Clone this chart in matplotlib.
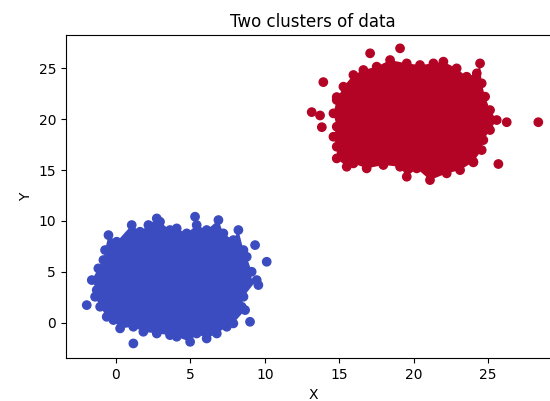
import matplotlib
matplotlib.use("Agg")
import matplotlib.pyplot as plt
import numpy as np

# --- Data ---
# Blue cluster: centres of the markers along the edge of the dense core
blue_edge_x = [-0.49, 0.06, 1.07, 1.63, 2.19, 2.75, 2.97, 3.64, 4.09, 4.76, 5.43, 6.10,
               6.89, 7.22, 7.89, 8.23, 8.57, 8.79, 9.12, 8.79, 9.46, 8.57, 8.45, 8.68,
               7.89, 7.45, 6.78, 6.10, 5.43, 4.99, 4.09, 3.64, 2.75, 1.85, 1.18, 0.29,
               -0.16, -0.61, -1.05, -1.39, -1.28, -1.61, -1.17, -0.83, -0.72]
blue_edge_y = [8.61, 7.96, 9.60, 8.94, 9.60, 10.25, 9.92, 9.11, 9.27, 8.78, 9.60, 9.11,
               10.09, 8.78, 8.12, 9.11, 7.14, 6.48, 5.01, 4.52, 4.19, 2.55, 1.57, 1.24,
               -0.07, -0.40, -1.06, -1.55, -1.06, -1.88, -1.38, -1.22, -1.06, -0.89, -0.40, -0.56,
               0.26, 0.58, 1.57, 2.55, 3.21, 4.19, 5.34, 6.16, 7.14]
# Blue cluster: isolated points
blue_out_x = [1.18, 5.32, 10.13, 9.35, 9.57, -1.95, 9.01]
blue_out_y = [-2.04, 10.42, 5.99, 7.63, 3.70, 1.73, 0.09]

# Red cluster: centres of the markers along the edge of the dense core
red_edge_x = [15.28, 15.95, 16.62, 17.51, 18.41, 19.53, 20.42, 21.32, 21.99, 22.88, 23.55,
              24.23, 24.45, 24.56, 24.79, 25.12, 25.57, 25.12, 24.67, 24.56, 24.00, 23.11,
              22.21, 21.09, 20.20, 19.53, 19.08, 17.96, 16.84, 15.95, 15.50, 14.83, 14.83,
              14.61, 14.83, 14.61, 14.83]
red_edge_y = [23.20, 24.35, 24.84, 25.17, 25.82, 25.49, 25.33, 25.49, 25.66, 25.00, 24.18,
              24.51, 25.49, 23.53, 22.22, 20.90, 19.92, 18.94, 17.95, 16.97, 15.82, 15.00,
              14.68, 14.02, 15.17, 14.35, 15.33, 15.50, 15.17, 15.66, 15.33, 16.15, 17.30,
              18.28, 19.27, 20.58, 21.89]
# Red cluster: isolated points
red_out_x = [17.07, 19.08, 13.93, 13.15, 13.71, 13.83, 14.83, 26.24, 28.36, 25.68, 24.00]
red_out_y = [26.48, 26.97, 23.65, 20.70, 20.37, 19.22, 22.18, 19.71, 19.71, 15.60, 15.76]

cluster_labels = [0, 1]

# --- Figure ---
fig = plt.figure(figsize=(5.5, 4.01), dpi=100)
ax = fig.add_axes([0.1195, 0.1062, 0.8996, 0.8065])

cmap = plt.get_cmap("coolwarm")

clusters = [
    (blue_edge_x, blue_edge_y, blue_out_x, blue_out_y),
    (red_edge_x, red_edge_y, red_out_x, red_out_y),
]
all_x, all_y, all_c = [], [], []
for lab, (ex, ey, ox, oy) in zip(cluster_labels, clusters):
    # dense core drawn as a filled region bounded by the edge markers
    ax.fill(ex, ey, color=cmap(float(lab)), linewidth=0, zorder=1)
    all_x += list(ex) + list(ox)
    all_y += list(ey) + list(oy)
    all_c += [lab] * (len(ex) + len(ox))

ax.scatter(all_x, all_y, c=all_c, cmap="coolwarm", vmin=0, vmax=1, zorder=2)

ax.set_xlim(-3.36, 29.85)
ax.set_ylim(-3.51, 28.28)
ax.set_xticks([0, 5, 10, 15, 20, 25])
ax.set_yticks([0, 5, 10, 15, 20, 25])
ax.set_title("Two clusters of data", fontsize=12)
ax.set_xlabel("X")
ax.set_ylabel("Y")

fig.savefig("out.png", dpi=100)
